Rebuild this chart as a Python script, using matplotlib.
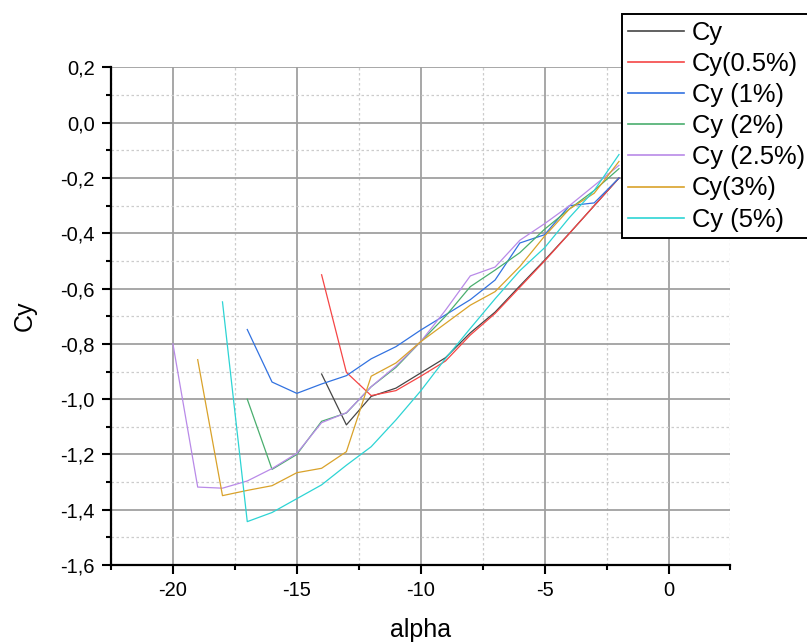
import matplotlib
matplotlib.use("Agg")
import matplotlib.pyplot as plt
from matplotlib.ticker import MultipleLocator, FuncFormatter

# lift coefficient vs angle of attack, one curve per case
alpha_cy = [-14, -13, -12, -11, -10, -9, -8, -7, -6, -5, -4, -3, -2]
cy = [-0.909, -1.093, -0.99, -0.96, -0.905, -0.85, -0.76, -0.685, -0.59, -0.497, -0.4, -0.3, -0.2]

alpha_05 = [-14, -13, -12, -11, -10, -9, -8, -7, -6, -5, -4, -3, -2]
cy_05 = [-0.55, -0.903, -0.987, -0.969, -0.917, -0.862, -0.768, -0.69, -0.595, -0.5, -0.4, -0.3, -0.2]

alpha_1 = [-17, -16, -15, -14, -13, -12, -11, -10, -9, -8, -7, -6, -5, -4, -3, -2]
cy_1 = [-0.748, -0.938, -0.979, -0.945, -0.915, -0.854, -0.81, -0.75, -0.695, -0.64, -0.569,
        -0.435, -0.405, -0.30, -0.29, -0.2]

alpha_2 = [-17, -16, -15, -14, -13, -12, -11, -10, -9, -8, -7, -6, -5, -4, -3, -2]
cy_2 = [-1.0, -1.254, -1.2, -1.08, -1.05, -0.955, -0.885, -0.792, -0.70, -0.593, -0.533,
        -0.47, -0.385, -0.312, -0.245, -0.166]

alpha_25 = [-20, -19, -18, -17, -16, -15, -14, -13, -12, -11, -10, -9, -8, -7, -6, -5, -4, -3, -2]
cy_25 = [-0.80, -1.318, -1.322, -1.296, -1.251, -1.196, -1.085, -1.049, -0.955, -0.88, -0.792,
         -0.678, -0.554, -0.522, -0.425, -0.365, -0.30, -0.227, -0.154]

alpha_3 = [-19, -18, -17, -16, -15, -14, -13, -12, -11, -10, -9, -8, -7, -6, -5, -4, -3, -2]
cy_3 = [-0.857, -1.349, -1.33, -1.313, -1.266, -1.25, -1.19, -0.917, -0.869, -0.792, -0.726,
        -0.66, -0.611, -0.52, -0.41, -0.312, -0.255, -0.14]

alpha_5 = [-18, -17, -16, -15, -14, -13, -12, -11, -10, -9, -8, -7, -6, -5, -4, -3, -2]
cy_5 = [-0.648, -1.443, -1.41, -1.36, -1.31, -1.239, -1.172, -1.075, -0.97, -0.853, -0.744,
        -0.637, -0.535, -0.452, -0.343, -0.245, -0.115]

series = [
    ("Cy", alpha_cy, cy, "#454545"),
    ("Cy(0.5%)", alpha_05, cy_05, "#f54545"),
    ("Cy (1%)", alpha_1, cy_1, "#3272e0"),
    ("Cy (2%)", alpha_2, cy_2, "#4aae6e"),
    ("Cy (2.5%)", alpha_25, cy_25, "#b98ae8"),
    ("Cy(3%)", alpha_3, cy_3, "#d9a22a"),
    ("Cy (5%)", alpha_5, cy_5, "#2dd4d4"),
]

plt.rcParams["font.family"] = ["Liberation Sans", "DejaVu Sans"]
plt.rcParams["axes.unicode_minus"] = False

fig = plt.figure(figsize=(8.07, 6.42), dpi=100)
ax = fig.add_axes([0.1375, 0.1199, 0.7677, 0.775])

for name, a, v, col in series:
    ax.plot(a, v, color=col, lw=0.9, label=name, zorder=3)

ax.set_xlim(-22.5, 2.5)
ax.set_ylim(-1.6, 0.2)
ax.xaxis.set_major_locator(MultipleLocator(5))
ax.xaxis.set_minor_locator(MultipleLocator(2.5))
ax.yaxis.set_major_locator(MultipleLocator(0.2))
ax.yaxis.set_minor_locator(MultipleLocator(0.1))
ax.xaxis.set_major_formatter(FuncFormatter(lambda x, p: f"{x:.0f}"))
ax.yaxis.set_major_formatter(
    FuncFormatter(lambda y, p: f"{round(y, 1) + 0.0:.1f}".replace(".", ",")))

ax.grid(which="major", color="#a0a0a0", lw=1.3, zorder=1)
ax.grid(which="minor", color="#cccccc", lw=0.9, ls=(0, (2, 2)), zorder=1)

for side in ("top", "right"):
    ax.spines[side].set_visible(False)
for side in ("left", "bottom"):
    ax.spines[side].set_linewidth(1.6)
    ax.spines[side].set_zorder(4)

ax.tick_params(which="major", direction="out", length=6.5, width=1.5, labelsize=14.5, pad=5)
ax.tick_params(which="minor", direction="out", length=3.5, width=1.5)

ax.set_xlabel("alpha", fontsize=18, labelpad=13)
ax.set_ylabel("Cy", fontsize=18, labelpad=17)

leg = fig.legend(loc="lower left", bbox_to_anchor=(621.5 / 807, 1 - 238 / 642),
                 bbox_transform=fig.transFigure, fontsize=18.4, frameon=True,
                 fancybox=False, edgecolor="black", framealpha=1,
                 handlelength=2.2, handletextpad=0.3, labelspacing=0.28,
                 borderpad=0.25, borderaxespad=0)
leg.get_frame().set_linewidth(1.4)
for line in leg.get_lines():
    line.set_linewidth(1.2)

plt.savefig("out.png", dpi=100)
